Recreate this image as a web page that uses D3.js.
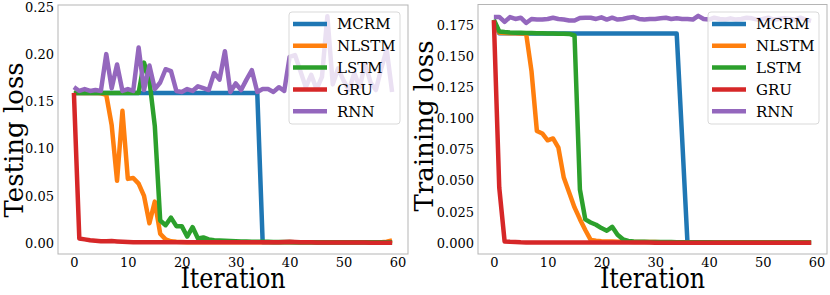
<!DOCTYPE html>
<html>
<head>
<meta charset="utf-8">
<script src="https://cdn.jsdelivr.net/npm/d3@7"></script>
<style>
  body { margin: 0; background: #fff; }
  text { font-family: "DejaVu Serif", serif; fill: #000; }
</style>
</head>
<body>
<div id="chart"></div>
<script>
// iterations 0..59
const iterations = d3.range(60);
const seriesNames = ["MCRM", "NLSTM", "LSTM", "GRU", "RNN"];
const colors = ["#1f77b4", "#ff7f0e", "#2ca02c", "#d62728", "#9467bd"];
const xTicks = [0, 10, 20, 30, 40, 50, 60];
const testTicks = [0, 0.05, 0.10, 0.15, 0.20, 0.25];
const trainTicks = [0, 0.025, 0.05, 0.075, 0.10, 0.125, 0.15, 0.175];

// testing loss (left panel)
const mcrmTest = [0.159,0.159,0.159,0.159,0.159,0.159,0.159,0.159,0.159,0.159,
  0.159,0.159,0.159,0.159,0.159,0.159,0.159,0.159,0.159,0.159,
  0.159,0.159,0.159,0.159,0.159,0.159,0.159,0.159,0.159,0.159,
  0.159,0.159,0.159,0.159,0.159,0.001,0.001,0.001,0.001,0.001,
  0.001,0.001,0.001,0.001,0.001,0.0008,0.0008,0.0008,0.0008,0.0008,
  0.0008,0.0008,0.0008,0.0008,0.0008,0.0008,0.0008,0.0008,0.0008,0.0008];
const nlstmTest = [0.159,0.159,0.159,0.159,0.159,0.1585,0.157,0.125,0.066,0.140,
  0.068,0.069,0.063,0.050,0.021,0.044,0.010,0.004,0.002,0.0015,
  0.0012,0.001,0.001,0.001,0.001,0.001,0.001,0.001,0.001,0.001,
  0.001,0.001,0.001,0.001,0.001,0.001,0.001,0.001,0.001,0.001,
  0.001,0.001,0.001,0.001,0.001,0.001,0.001,0.001,0.001,0.001,
  0.001,0.001,0.001,0.001,0.001,0.001,0.001,0.001,0.0015,0.003];
const lstmTest = [0.159,0.159,0.159,0.159,0.159,0.159,0.159,0.159,0.159,0.159,
  0.159,0.159,0.159,0.191,0.172,0.124,0.024,0.019,0.027,0.018,
  0.018,0.007,0.017,0.005,0.006,0.004,0.003,0.0028,0.0025,0.0022,
  0.002,0.0018,0.0018,0.0016,0.0015,0.0015,0.0014,0.0013,0.0012,0.0012,
  0.0011,0.001,0.001,0.001,0.001,0.001,0.001,0.001,0.001,0.001,
  0.001,0.001,0.001,0.001,0.001,0.001,0.001,0.001,0.001,0.001];
const gruTest = [0.159,0.005,0.004,0.003,0.0025,0.002,0.002,0.0022,0.0018,0.0015,
  0.0012,0.001,0.001,0.001,0.001,0.001,0.001,0.001,0.001,0.001,
  0.001,0.001,0.001,0.001,0.001,0.001,0.001,0.001,0.001,0.001,
  0.001,0.001,0.001,0.001,0.001,0.001,0.001,0.001,0.001,0.0012,
  0.0015,0.0012,0.001,0.001,0.001,0.0008,0.0008,0.0008,0.0008,0.0007,
  0.0007,0.0007,0.0006,0.0006,0.0006,0.0005,0.0005,0.0005,0.0005,0.0005];
const rnnTest = [0.165,0.161,0.163,0.161,0.162,0.161,0.200,0.164,0.189,0.161,
  0.163,0.161,0.207,0.162,0.188,0.163,0.170,0.184,0.182,0.161,
  0.160,0.163,0.161,0.166,0.164,0.162,0.180,0.173,0.203,0.160,
  0.169,0.162,0.173,0.183,0.160,0.163,0.163,0.160,0.165,0.161,
  0.197,0.199,0.182,0.165,0.178,0.163,0.176,0.240,0.168,0.185,
  0.172,0.162,0.180,0.165,0.190,0.170,0.162,0.185,0.205,0.160];

// training loss (right panel)
const mcrmTrain = [0.178,0.1685,0.1685,0.1685,0.1685,0.1684,0.1684,0.1684,0.1684,0.1684,
  0.1684,0.1684,0.1684,0.1683,0.1683,0.1683,0.1683,0.1683,0.1683,0.1683,
  0.1683,0.1683,0.1683,0.1683,0.1683,0.1683,0.1683,0.1683,0.1683,0.1683,
  0.1683,0.1683,0.1683,0.1683,0.1683,0.085,0.0005,0.0005,0.0005,0.0005,
  0.0004,0.0004,0.0004,0.0004,0.0004,0.0004,0.0004,0.0004,0.0004,0.0004,
  0.0003,0.0003,0.0003,0.0003,0.0003,0.0003,0.0003,0.0003,0.0003,0.0003];
const nlstmTrain = [0.178,0.169,0.1688,0.1686,0.1685,0.1684,0.1683,0.138,0.090,0.088,
  0.0825,0.084,0.0767,0.0526,0.0406,0.0286,0.0192,0.0105,0.0025,0.0018,
  0.0015,0.0013,0.0012,0.0011,0.001,0.001,0.0009,0.0009,0.0008,0.0008,
  0.0008,0.0007,0.0007,0.0007,0.0007,0.0006,0.0006,0.0006,0.0006,0.0006,
  0.0006,0.0005,0.0005,0.0005,0.0005,0.0005,0.0005,0.0005,0.0005,0.0005,
  0.0005,0.0005,0.0005,0.0005,0.0005,0.0005,0.0005,0.0005,0.0005,0.0005];
const lstmTrain = [0.1795,0.170,0.1695,0.1692,0.169,0.169,0.1688,0.1687,0.1686,0.1685,
  0.1684,0.1683,0.1682,0.1681,0.168,0.1667,0.043,0.019,0.0165,0.0147,
  0.012,0.0099,0.013,0.0066,0.003,0.0017,0.0012,0.001,0.001,0.0009,
  0.0009,0.0008,0.0008,0.0008,0.0007,0.0007,0.0007,0.0006,0.0006,0.0006,
  0.0006,0.0005,0.0005,0.0005,0.0005,0.0005,0.0005,0.0005,0.0005,0.0005,
  0.0005,0.0005,0.0005,0.0005,0.0005,0.0005,0.0005,0.0005,0.0005,0.0005];
const gruTrain = [0.179,0.0446,0.0013,0.001,0.0008,0.0006,0.0005,0.0005,0.0005,0.0005,
  0.0004,0.0004,0.0004,0.0004,0.0004,0.0004,0.0004,0.0004,0.0004,0.0004,
  0.0004,0.0004,0.0004,0.0004,0.0004,0.0004,0.0004,0.0004,0.0004,0.0004,
  0.0003,0.0003,0.0003,0.0003,0.0003,0.0003,0.0003,0.0003,0.0003,0.0003,
  0.0003,0.0003,0.0003,0.0003,0.0003,0.0003,0.0003,0.0003,0.0003,0.0003,
  0.0003,0.0003,0.0003,0.0003,0.0003,0.0003,0.0003,0.0003,0.0003,0.0003];
const rnnTrain = [0.1816,0.1816,0.1776,0.1815,0.180,0.181,0.1768,0.180,0.1795,0.1795,
  0.180,0.181,0.180,0.1795,0.1787,0.1787,0.1808,0.181,0.181,0.180,
  0.1813,0.1795,0.181,0.1795,0.180,0.181,0.1815,0.180,0.1795,0.180,
  0.180,0.1805,0.181,0.180,0.1805,0.180,0.180,0.1795,0.1825,0.180,
  0.1795,0.181,0.180,0.1795,0.1805,0.1795,0.180,0.181,0.1805,0.1795,
  0.180,0.181,0.1795,0.180,0.1805,0.180,0.1795,0.181,0.1795,0.1785];

const W = 830, H = 295;
const svg = d3.select("#chart").append("svg")
  .attr("width", W).attr("height", H);

// matplotlib style 5% margins around the data
function padded(ext) {
  const p = (ext[1] - ext[0]) * 0.05;
  return [ext[0] - p, ext[1] + p];
}

function panel(box, data, yTicks, fmt, ylabel, ylabelPos) {
  const g = svg.append("g");

  const x = d3.scaleLinear()
    .domain(padded(d3.extent(iterations)))
    .range([box.left, box.right]);
  const y = d3.scaleLinear()
    .domain(padded(d3.extent(data.flat())))
    .range([box.bottom, box.top]);

  // X axis
  const xa = g.append("g")
    .attr("transform", `translate(0,${box.bottom})`)
    .call(d3.axisBottom(x).tickValues(xTicks).tickSize(0).tickPadding(4));
  xa.select(".domain").remove();
  xa.selectAll("text").style("font-family", "DejaVu Serif").style("font-size", "13px");

  // Y axis
  const ya = g.append("g")
    .attr("transform", `translate(${box.left},0)`)
    .call(d3.axisLeft(y).tickValues(yTicks).tickFormat(d3.format(fmt)).tickSize(0).tickPadding(4));
  ya.select(".domain").remove();
  ya.selectAll("text").style("font-family", "DejaVu Serif").style("font-size", "13px");

  // lines
  const line = d3.line()
    .x((d, i) => x(iterations[i]))
    .y(d => y(d));
  data.forEach((s, k) => {
    g.append("path")
      .datum(s)
      .attr("d", line)
      .attr("fill", "none")
      .attr("stroke", colors[k])
      .attr("stroke-width", 4.5)
      .attr("stroke-linejoin", "round");
  });

  // frame
  g.append("rect")
    .attr("x", box.left).attr("y", box.top)
    .attr("width", box.right - box.left).attr("height", box.bottom - box.top)
    .attr("fill", "none").attr("stroke", "#b5b5b5").attr("stroke-width", 1);

  // labels
  const cx = (box.left + box.right) / 2;
  g.append("text")
    .attr("transform", `translate(${cx},288) scale(0.88,1)`)
    .attr("text-anchor", "middle")
    .style("font-size", "27px")
    .text("Iteration");
  g.append("text")
    .attr("transform", `translate(${ylabelPos[0]},${ylabelPos[1]}) rotate(-90)`)
    .attr("text-anchor", "middle")
    .style("font-size", "26px")
    .text(ylabel);

  // legend
  const lx = box.right - 119, ly = 12;
  const lg = g.append("g").attr("transform", `translate(${lx},${ly})`);
  lg.append("rect")
    .attr("width", 111).attr("height", 112).attr("rx", 3)
    .attr("fill", "#fff").attr("fill-opacity", 0.8)
    .attr("stroke", "#d9d9d9").attr("stroke-width", 1);
  seriesNames.forEach((name, k) => {
    const yy = 12 + k * 21.8;
    lg.append("line")
      .attr("x1", 4).attr("x2", 38).attr("y1", yy).attr("y2", yy)
      .attr("stroke", colors[k]).attr("stroke-width", 4.5);
    lg.append("text")
      .attr("x", 48).attr("y", yy).attr("dy", "0.36em")
      .style("font-size", "15px")
      .text(name);
  });
}

panel({left: 58, right: 408, top: 5, bottom: 254},
  [mcrmTest, nlstmTest, lstmTest, gruTest, rnnTest],
  testTicks, ".2f", "Testing loss", [23, 140]);
panel({left: 478, right: 827, top: 4.5, bottom: 254},
  [mcrmTrain, nlstmTrain, lstmTrain, gruTrain, rnnTrain],
  trainTicks, ".3f", "Training loss", [433, 126]);
</script>
</body>
</html>
